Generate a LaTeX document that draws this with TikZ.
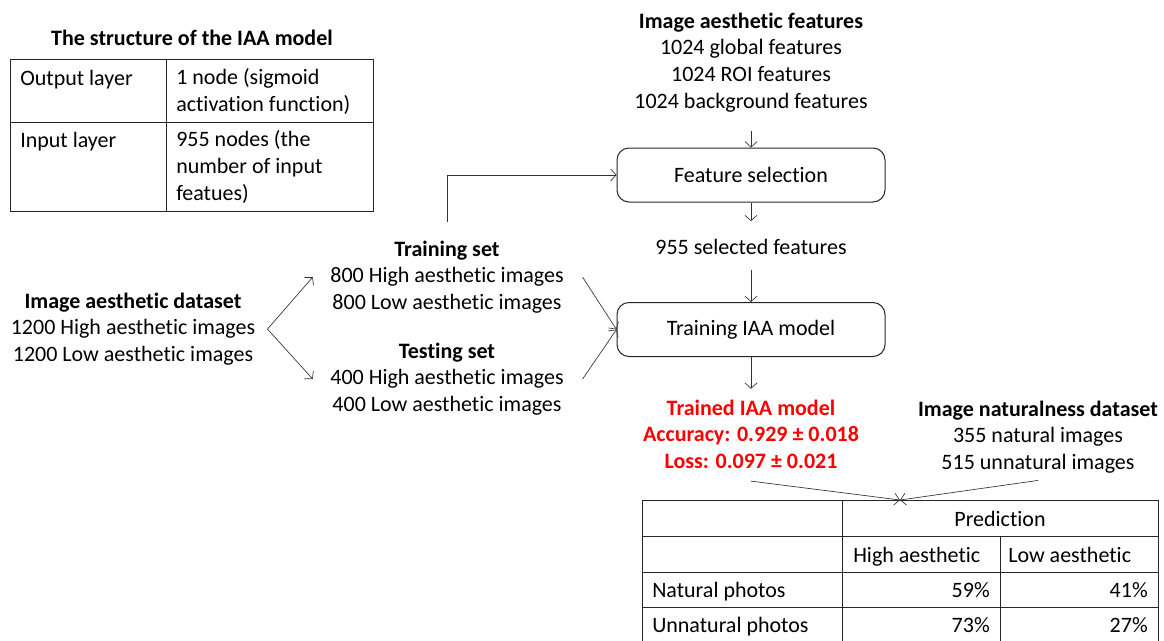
\documentclass[tikz,border=0pt]{standalone}
\usepackage{fontspec}
\setmainfont{Carlito}[Ligatures=NoCommon, RawFeature={-liga;-clig}]
\usetikzlibrary{arrows.meta,positioning}

\newcommand{\bodyfont}{\fontsize{16.5}{20.1}\selectfont}
\definecolor{trainedred}{RGB}{255,0,0}

\tikzset{
  txt/.style = {inner sep=0pt, align=center, font=\bodyfont},
  cell/.style = {inner sep=0pt, align=left, font=\bodyfont},
  procbox/.style = {draw, black!85, text=black, line width=0.75pt, rounded corners=9pt,
                    minimum width=201pt, minimum height=40.5pt, inner sep=0pt, font=\bodyfont},
  flow/.style = {->, >={Straight Barb[length=4pt,width=9pt]}, line width=0.5pt, black!80},
  grid/.style = {line width=0.75pt, black!85}
}

\begin{document}
\begin{tikzpicture}[x=0.75pt, y=-0.75pt]
\useasboundingbox (0,0) rectangle (1164,640);

\node[txt, anchor=north] (structtitle) at (192,29.5) {\textbf{The structure of the IAA model}};
\draw[grid] (10,59) rectangle (373,211);
\draw[grid] (10,122) -- (373,122);
\draw[grid] (166,59) -- (166,211);
\node[cell, anchor=north west] (outlbl) at (20,69.5) {Output layer};
\node[cell, anchor=north west] (outval) at (176,68.5) {1 node (sigmoid\\activation function)};
\node[cell, anchor=north west] (inlbl) at (20,131.5) {Input layer};
\node[cell, anchor=north west] (inval) at (176,130.5) {955 nodes (the\\number of input\\featues)};

\node[txt, anchor=north] (aesfeat) at (751,12.4) {\textbf{Image aesthetic features}\\1024 global features\\1024 ROI features\\1024 background features};
\node[procbox] (featsel) at (751,175) {Feature selection};
\node[txt, anchor=base] (selfeat) at (751,254) {955 selected features};
\node[procbox] (trainbox) at (751,329.5) {Training IAA model};

\node[txt, anchor=north] (aesdata) at (133,292.4) {\textbf{Image aesthetic dataset}\\1200 High aesthetic images\\1200 Low aesthetic images};
\node[txt, anchor=north] (trainset) at (447,240.4) {\textbf{Training set}\\800 High aesthetic images\\800 Low aesthetic images};
\node[txt, anchor=north] (testset) at (447,342.4) {\textbf{Testing set}\\400 High aesthetic images\\400 Low aesthetic images};

\node[txt, anchor=north, text=trainedred, font=\bodyfont\bfseries] (trained) at (751,399.4) {Trained IAA model\\Accuracy: 0.929 ± 0.018\\Loss: 0.097 ± 0.021};
\node[txt, anchor=north] (natdata) at (1038,400.4) {\textbf{Image naturalness dataset}\\355 natural images\\515 unnatural images};

\draw[grid] (642,643) -- (642,500) -- (1158,500) -- (1158,643);
\draw[grid] (842,500) -- (842,643);
\draw[grid] (1000,536) -- (1000,643);
\draw[grid] (642,536) -- (1158,536);
\draw[grid] (642,572) -- (1158,572);
\draw[grid] (642,607) -- (1158,607);
\node[cell, anchor=base] (predhead) at (1000,526) {Prediction};
\node[cell, anchor=base west] (highhead) at (853,562) {High aesthetic};
\node[cell, anchor=base west] (lowhead) at (1008,562) {Low aesthetic};
\node[cell, anchor=base west] (natrow) at (652,597) {Natural photos};
\node[cell, anchor=base west] (unnatrow) at (652,632) {Unnatural photos};
\node[cell, anchor=base east] (nathigh) at (990,597) {59\%};
\node[cell, anchor=base east] (natlow) at (1148,597) {41\%};
\node[cell, anchor=base east] (unnathigh) at (990,632) {73\%};
\node[cell, anchor=base east] (unnatlow) at (1148,632) {27\%};
\coordinate (meet) at (900,500);

\path[flow] ([yshift=-14pt]aesfeat.south) edge (featsel.north);
\path[flow] (featsel.south) edge ([yshift=13pt]selfeat.north);
\path[flow] ([yshift=-12pt]selfeat.south) edge (trainbox.north);
\path[flow] (trainbox.south) edge ([yshift=8pt]trained.north);
\draw[flow] ([yshift=14pt]trainset.north) |- (featsel.west);
\path[flow] ([xshift=9pt]aesdata.east) edge ([xshift=-13pt]trainset.west);
\path[flow] ([xshift=9pt]aesdata.east) edge ([xshift=-13pt]testset.west);
\path[flow] ([xshift=14pt]trainset.east) edge (trainbox.west);
\path[flow] ([xshift=14pt]testset.east) edge (trainbox.west);
\path[flow] ([yshift=-9pt]trained.south) edge (meet);
\path[flow] ([yshift=-5pt]natdata.south) edge (meet);
\end{tikzpicture}
\end{document}
